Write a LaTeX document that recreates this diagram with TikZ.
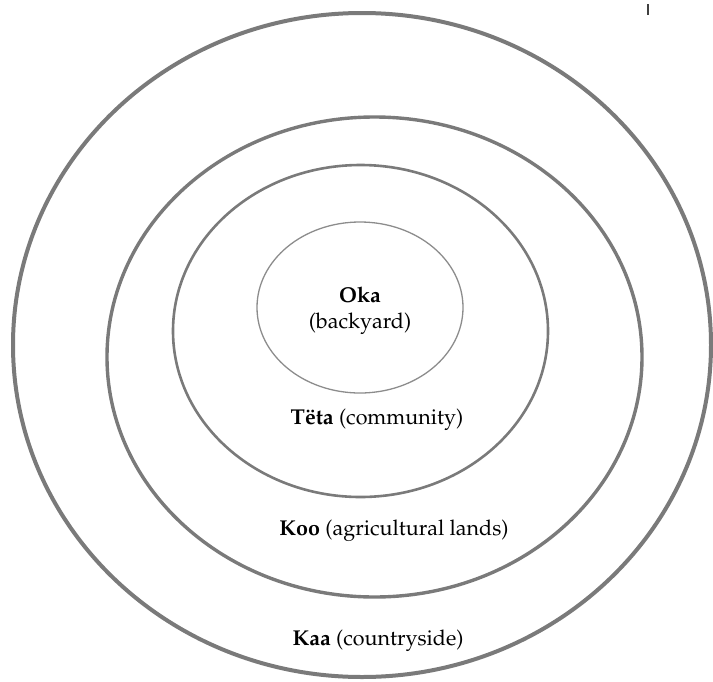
\documentclass[tikz,border=0pt]{standalone}
\usepackage[T1]{fontenc}
\usepackage{mathpazo}
\usepackage{xcolor}
\colorlet{ring}{black!52}

\begin{document}
\begin{tikzpicture}[x=1pt,y=-1pt,color=black]
\def\fsize{\fontsize{21.5}{26}\selectfont}
\useasboundingbox (0,0) rectangle (713,681);

\begin{scope}[draw=ring]
  \draw[line width=4pt] (362,345) ellipse [x radius=349, y radius=332];
  \draw[line width=3.4pt] (374.5,357) ellipse [x radius=267.5, y radius=240];
  \draw[line width=2.6pt] (360.5,331) ellipse [x radius=187.5, y radius=166];
  \draw[line width=1.3pt, draw=black!45] (360,307.5) ellipse [x radius=103, y radius=85.5];
\end{scope}

% small tick at the top
\draw[line width=2pt, black!75] (648,4) -- (648,15);

\node[font=\fsize, align=center] (oka) at (360,311) {\textbf{Oka}\\(backyard)};
\node[font=\fsize] (teta) at (377,420) {\textbf{T\"eta} (community)};
\node[font=\fsize] (koo) at (394,531) {\textbf{Koo} (agricultural lands)};
\node[font=\fsize] (kaa) at (378,641) {\textbf{Kaa} (countryside)};

\end{tikzpicture}
\end{document}
